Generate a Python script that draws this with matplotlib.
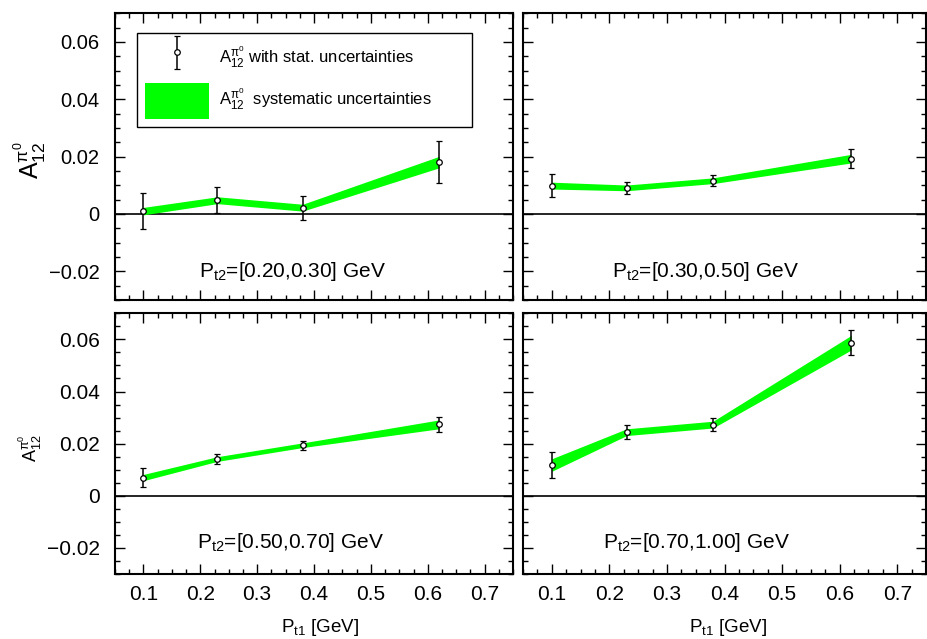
import matplotlib
matplotlib.use("Agg")
import matplotlib.pyplot as plt
from matplotlib.ticker import MultipleLocator, FixedLocator, FuncFormatter
from matplotlib.patches import Patch
from matplotlib.legend_handler import HandlerErrorbar
from matplotlib.container import ErrorbarContainer

plt.rcParams['font.family'] = ['Liberation Sans', 'DejaVu Sans']
plt.rcParams['mathtext.fontset'] = 'custom'
plt.rcParams['mathtext.rm'] = 'Liberation Sans'
plt.rcParams['mathtext.it'] = 'Liberation Sans:italic'
plt.rcParams['mathtext.bf'] = 'Liberation Sans:bold'

# ---- data ----
pt1 = [0.10, 0.23, 0.38, 0.62]
panel_labels = ["[0.20,0.30]", "[0.30,0.50]", "[0.50,0.70]", "[0.70,1.00]"]

a_020_030 = [0.0010, 0.0048, 0.0022, 0.0181]
stat_020_030 = [0.0063, 0.0045, 0.0042, 0.0073]
sys_020_030 = [0.0013, 0.0012, 0.0012, 0.0020]

a_030_050 = [0.0099, 0.0091, 0.0116, 0.0193]
stat_030_050 = [0.0041, 0.0020, 0.0019, 0.0033]
sys_030_050 = [0.0012, 0.0010, 0.0010, 0.0015]

a_050_070 = [0.0070, 0.0141, 0.0194, 0.0274]
stat_050_070 = [0.0035, 0.0019, 0.0018, 0.0030]
sys_050_070 = [0.0012, 0.0009, 0.0009, 0.0017]

a_070_100 = [0.0118, 0.0244, 0.0273, 0.0587]
stat_070_100 = [0.0049, 0.0026, 0.0025, 0.0048]
sys_070_100 = [0.0024, 0.0013, 0.0013, 0.0028]

values = [a_020_030, a_030_050, a_050_070, a_070_100]
stats = [stat_020_030, stat_030_050, stat_050_070, stat_070_100]
syss = [sys_020_030, sys_030_050, sys_050_070, sys_070_100]

xticks = [0.1, 0.2, 0.3, 0.4, 0.5, 0.6, 0.7]
yticks = [-0.02, 0.0, 0.02, 0.04, 0.06]

A_LABEL = r'A$_{12}^{\mathrm{π}^0}$'

# ---- layout ----
W, H = 927, 639
fig = plt.figure(figsize=(W / 100, H / 100), dpi=100)

def px_axes(x0, x1, y0, y1):
    return fig.add_axes([x0 / W, 1 - y1 / H, (x1 - x0) / W, (y1 - y0) / H])

axes = [
    px_axes(115, 513, 13.3, 300),
    px_axes(523, 926, 13.3, 300),
    px_axes(115, 513, 313.3, 574),
    px_axes(523, 926, 313.3, 574),
]

green = '#00ff00'

def yfmt(v, pos):
    if abs(v) < 1e-9:
        return '0'
    return ('%.2f' % v).replace('-', '\u2212')

text_pos = [(0.447, 0.080), (0.452, 0.080), (0.44, 0.0997), (0.43, 0.0997)]

containers = []
for i, ax in enumerate(axes):
    y = values[i]
    lo = [v - s for v, s in zip(y, syss[i])]
    hi = [v + s for v, s in zip(y, syss[i])]
    ax.fill_between(pt1, lo, hi, color=green, lw=0, zorder=2)
    ax.axhline(0, color='black', lw=1.2, zorder=1)
    c = ax.errorbar(pt1, y, yerr=stats[i], fmt='o', ms=4, mfc='white', mec='black',
                    mew=0.9, ecolor='black', elinewidth=1.1, capsize=2, capthick=1.1,
                    zorder=3)
    containers.append(c)
    ax.set_xlim(0.05, 0.75)
    ax.set_ylim(-0.03, 0.07)
    ax.xaxis.set_major_locator(FixedLocator(xticks))
    ax.xaxis.set_minor_locator(MultipleLocator(0.025))
    ax.yaxis.set_major_locator(FixedLocator(yticks))
    ax.yaxis.set_minor_locator(MultipleLocator(0.005))
    ax.yaxis.set_major_formatter(FuncFormatter(yfmt))
    ax.xaxis.set_major_formatter(FuncFormatter(lambda v, p: '%.1f' % v))
    bottom_row = i >= 2
    left_col = i % 2 == 0
    fs = 15 if bottom_row else 14.5
    ax.tick_params(which='both', direction='in', top=True, right=True,
                   labelbottom=bottom_row, labelleft=left_col, labelsize=fs,
                   width=1.0)
    ax.tick_params(which='major', length=7)
    ax.tick_params(which='minor', length=3.5)
    ax.tick_params(axis='y', pad=11)
    ax.tick_params(axis='x', pad=8)
    for sp in ax.spines.values():
        sp.set_linewidth(1.5)
    tx, ty = text_pos[i]
    ax.text(tx, ty, r'P$_{\mathrm{t2}}$=' + panel_labels[i] + ' GeV', transform=ax.transAxes,
            ha='center', va='baseline', fontsize=15)

# legend in the first panel
lx0, lx1, ly0, ly1 = 137, 471.7, 32.7, 127.3
leg = axes[0].legend(
    [containers[0], Patch(facecolor=green, edgecolor='none')],
    [A_LABEL + ' with stat. uncertainties', A_LABEL + '  systematic uncertainties'],
    handler_map={ErrorbarContainer: HandlerErrorbar(yerr_size=1.0)},
    loc='upper left',
    bbox_to_anchor=((lx0 - 115) / 398, (300 - ly1) / 286.7,
                    (lx1 - lx0) / 398, (ly1 - ly0) / 286.7),
    mode='expand', fontsize=12, frameon=True, fancybox=False, edgecolor='black',
    framealpha=1, borderpad=0.5, handlelength=3.8, handleheight=2.9,
    handletextpad=0.6, labelspacing=0.4, borderaxespad=0)
leg.get_frame().set_linewidth(1.0)

# axis titles
fig.text(30 / W, 1 - 160 / H, A_LABEL, rotation=90, ha='center', va='center', fontsize=18)
fig.text(30 / W, 1 - 448 / H, A_LABEL, rotation=90, ha='center', va='center', fontsize=13)
fig.text(320 / W, 1 - 632 / H, r'P$_{\mathrm{t1}}$ [GeV]', ha='center', va='baseline', fontsize=13.5)
fig.text(728 / W, 1 - 632 / H, r'P$_{\mathrm{t1}}$ [GeV]', ha='center', va='baseline', fontsize=13.5)

fig.savefig('out.png', dpi=100)
